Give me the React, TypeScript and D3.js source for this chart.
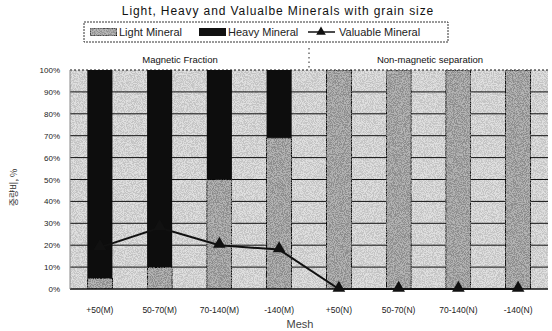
import { useEffect, useRef } from "react";
import * as d3 from "d3";

const categories = ["+50(M)", "50-70(M)", "70-140(M)", "-140(M)", "+50(N)", "50-70(N)", "70-140(N)", "-140(N)"];
const lightMineral = [5, 10, 50, 69, 100, 100, 100, 100];
const heavyMineral = [95, 90, 50, 31, 0, 0, 0, 0];
const valuableMineral = [19, 28, 20, 18, 0, 0, 0, 0];
const yTicks = [0, 10, 20, 30, 40, 50, 60, 70, 80, 90, 100];

const FONT = "'Liberation Sans', Arial, sans-serif";

export default function App() {
  const svgRef = useRef<SVGSVGElement>(null);

  useEffect(() => {
    if (!svgRef.current) return;
    const svg = d3.select(svgRef.current);
    svg.selectAll("*").remove();

    const width = 552;
    const height = 331;
    const margin = { top: 70, right: 4, bottom: 42, left: 70 };

    const defs = svg.append("defs");
    // grainy scan look: add signed grey noise onto the fill
    const grain = defs.append("filter").attr("id", "grain").attr("x", 0).attr("y", 0).attr("width", 1).attr("height", 1);
    grain.append("feTurbulence").attr("type", "fractalNoise").attr("baseFrequency", 1.1).attr("numOctaves", 2).attr("seed", 5).attr("result", "noise");
    grain.append("feColorMatrix").attr("in", "noise").attr("type", "matrix")
      .attr("values", "5 0 0 0 -2  5 0 0 0 -2  5 0 0 0 -2  0 0 0 0 1").attr("result", "grey");
    grain.append("feComposite").attr("in", "SourceGraphic").attr("in2", "grey").attr("operator", "arithmetic")
      .attr("k1", 0).attr("k2", 1).attr("k3", 0.2).attr("k4", -0.1).attr("result", "mixed");
    grain.append("feComposite").attr("in", "mixed").attr("in2", "SourceGraphic").attr("operator", "in");

    const x = d3.scaleBand().domain(categories).range([margin.left, width - margin.right]).paddingInner(0.58).paddingOuter(0.29);
    const xc = d3.scaleBand().domain(categories).range([margin.left, width - margin.right]);
    const y = d3.scaleLinear().domain([0, 100]).range([height - margin.bottom, margin.top]);

    // title
    svg.append("text")
      .attr("x", 278).attr("y", 15)
      .attr("text-anchor", "middle")
      .attr("font-family", FONT).attr("font-size", 12).attr("letter-spacing", "0.9px")
      .attr("fill", "#111")
      .text("Light, Heavy and Valualbe Minerals with grain size");

    // legend
    const lg = svg.append("g");
    lg.append("rect").attr("x", 84).attr("y", 22).attr("width", 364).attr("height", 20)
      .attr("fill", "#fff").attr("stroke", "#333").attr("stroke-width", 1).attr("stroke-dasharray", "2,1");
    lg.append("rect").attr("x", 90).attr("y", 28).attr("width", 27).attr("height", 8)
      .attr("fill", "#a6a6a6").attr("stroke", "#222").attr("stroke-width", 0.8).attr("filter", "url(#grain)");
    lg.append("text").attr("x", 119).attr("y", 36).attr("font-family", FONT).attr("font-size", 11).attr("fill", "#222").text("Light Mineral");
    lg.append("rect").attr("x", 199).attr("y", 28).attr("width", 27).attr("height", 8).attr("fill", "#111");
    lg.append("text").attr("x", 228).attr("y", 36).attr("font-family", FONT).attr("font-size", 11).attr("fill", "#222").text("Heavy Mineral");
    lg.append("line").attr("x1", 308).attr("x2", 335).attr("y1", 32).attr("y2", 32).attr("stroke", "#111").attr("stroke-width", 1.5);
    lg.append("path").attr("d", d3.symbol(d3.symbolTriangle, 40)()).attr("transform", "translate(321,32)").attr("fill", "#111");
    lg.append("text").attr("x", 339).attr("y", 36).attr("font-family", FONT).attr("font-size", 11).attr("fill", "#222").text("Valuable Mineral");

    // section labels and divider
    svg.append("text").attr("x", 180).attr("y", 63).attr("text-anchor", "middle")
      .attr("font-family", FONT).attr("font-size", 9.5).attr("fill", "#111").text("Magnetic Fraction");
    svg.append("text").attr("x", 430).attr("y", 63).attr("text-anchor", "middle")
      .attr("font-family", FONT).attr("font-size", 9.5).attr("fill", "#111").text("Non-magnetic separation");
    const divX = xc(categories[4])!;
    svg.append("line").attr("x1", divX).attr("x2", divX).attr("y1", 48).attr("y2", margin.top)
      .attr("stroke", "#222").attr("stroke-width", 1).attr("stroke-dasharray", "1.5,3");

    // plot background
    svg.append("rect")
      .attr("x", margin.left).attr("y", y(100))
      .attr("width", width - margin.left - margin.right).attr("height", y(0) - y(100))
      .attr("fill", "#d2d2d2").attr("filter", "url(#grain)");

    // grid
    svg.append("g").selectAll("line").data(yTicks.filter((t) => t > 0)).join("line")
      .attr("x1", margin.left).attr("x2", width - margin.right)
      .attr("y1", (d) => y(d)).attr("y2", (d) => y(d))
      .attr("stroke", "#111").attr("stroke-width", 1)
      .attr("stroke-dasharray", (d) => (d === 100 ? "2,2" : null));

    // y tick labels
    svg.append("g").selectAll("text").data(yTicks).join("text")
      .attr("x", 60).attr("y", (d) => y(d) + 3)
      .attr("text-anchor", "end")
      .attr("font-family", FONT).attr("font-size", 8).attr("fill", "#222")
      .text((d) => `${d}%`);

    // y axis title
    svg.append("text")
      .attr("transform", `translate(17,${(y(0) + y(100)) / 2 + 8}) rotate(-90)`)
      .attr("text-anchor", "middle")
      .attr("font-family", "'Noto Sans CJK KR', sans-serif").attr("font-size", 9).attr("fill", "#333")
      .text("중량비, %");

    // stacked bars
    const bars = svg.append("g");
    bars.selectAll("rect.light").data(categories).join("rect").attr("class", "light")
      .attr("x", (d) => x(d)!).attr("width", x.bandwidth())
      .attr("y", (_, i) => y(lightMineral[i])).attr("height", (_, i) => y(0) - y(lightMineral[i]))
      .attr("fill", "#a2a2a2").attr("stroke", "#1a1a1a").attr("stroke-width", 0.8)
      .attr("filter", "url(#grain)");
    bars.selectAll("rect.heavy").data(categories).join("rect").attr("class", "heavy")
      .attr("x", (d) => x(d)!).attr("width", x.bandwidth())
      .attr("y", (_, i) => y(lightMineral[i] + heavyMineral[i]))
      .attr("height", (_, i) => y(lightMineral[i]) - y(lightMineral[i] + heavyMineral[i]))
      .attr("fill", "#0d0d0d");

    // axes lines
    svg.append("line").attr("x1", margin.left).attr("x2", width - margin.right).attr("y1", y(0)).attr("y2", y(0))
      .attr("stroke", "#111").attr("stroke-width", 1.5);
    svg.append("line").attr("x1", margin.left).attr("x2", margin.left).attr("y1", y(0)).attr("y2", y(100))
      .attr("stroke", "#888").attr("stroke-width", 1);

    // valuable mineral line
    const cx = (d: string) => xc(d)! + xc.bandwidth() / 2;
    const line = d3.line<number>().x((_, i) => cx(categories[i])).y((d) => y(d));
    svg.append("path").datum(valuableMineral).attr("d", line)
      .attr("fill", "none").attr("stroke", "#111").attr("stroke-width", 2);
    svg.append("g").selectAll("path").data(valuableMineral).join("path")
      .attr("d", d3.symbol(d3.symbolTriangle, 70)())
      .attr("transform", (d, i) => `translate(${cx(categories[i])},${y(d) - 1})`)
      .attr("fill", "#111");

    // x labels
    svg.append("g").selectAll("text").data(categories).join("text")
      .attr("x", (d) => cx(d)).attr("y", 313)
      .attr("text-anchor", "middle")
      .attr("font-family", FONT).attr("font-size", 8.5).attr("fill", "#222")
      .text((d) => d);

    svg.append("text").attr("x", 300).attr("y", 328).attr("text-anchor", "middle")
      .attr("font-family", FONT).attr("font-size", 11).attr("fill", "#444").text("Mesh");
  }, []);

  return (
    <svg
      ref={svgRef}
      width={552}
      height={331}
      style={{ position: "absolute", left: 0, top: 0, background: "#fff" }}
    />
  );
}
